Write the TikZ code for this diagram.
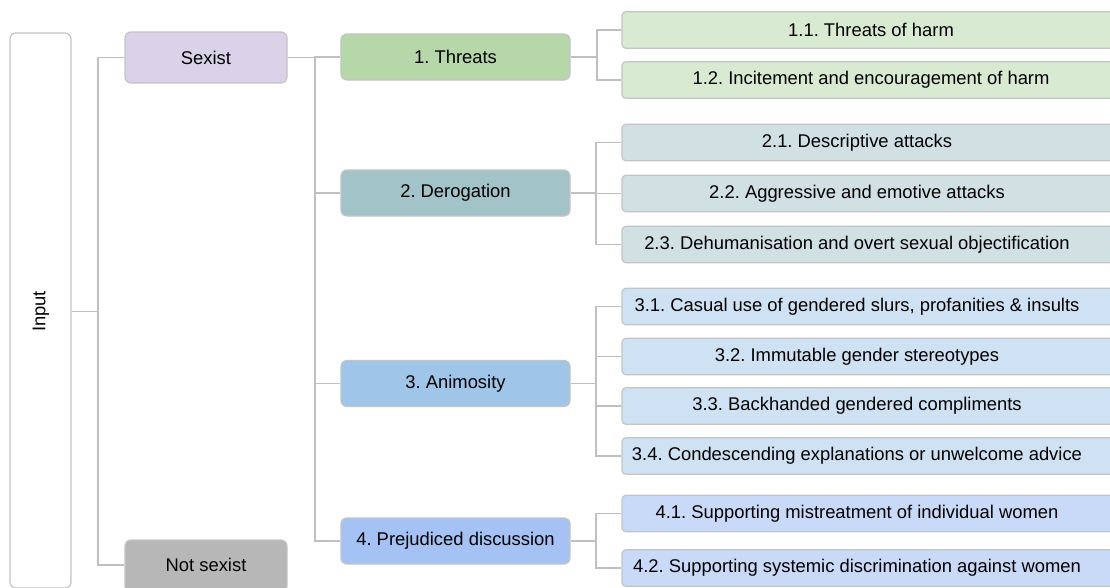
\documentclass[tikz,border=0pt]{standalone}
\usepackage{fontspec}
\setmainfont{Liberation Sans}
\frenchspacing
\definecolor{bordergray}{HTML}{C4C4C4}
\definecolor{linegray}{HTML}{C0C0C0}
\definecolor{sexistfill}{HTML}{D9D2E9}
\definecolor{notsexistfill}{HTML}{B7B7B7}
\definecolor{thrA}{HTML}{B6D7A8}
\definecolor{thrB}{HTML}{D9EAD3}
\definecolor{derA}{HTML}{A2C4C9}
\definecolor{derB}{HTML}{D0E0E3}
\definecolor{aniA}{HTML}{9FC5E8}
\definecolor{aniB}{HTML}{CFE2F3}
\definecolor{preA}{HTML}{A4C2F4}
\definecolor{preB}{HTML}{C9DAF8}
\begin{document}
\begin{tikzpicture}[x=1pt,y=-1pt,
  every node/.style={font=\fontsize{18.4}{21}\selectfont\frenchspacing, text=black},
  box/.style={draw=bordergray, line width=1.2pt, rounded corners=6pt, inner sep=0pt},
  topbox/.style={box, minimum width=162pt, minimum height=51pt},
  catbox/.style={box, minimum width=229pt, minimum height=46pt},
  leafbox/.style={box, rounded corners=4pt, minimum width=498pt, minimum height=36.5pt},
  conn/.style={draw=linegray, line width=1.2pt}]
\clip (0,0) rectangle (1110,587);
\fill[white] (0,0) rectangle (1110,587);

% level 0 and 1
\node[box, fill=white, minimum width=61pt, minimum height=555pt] (input) at (40.5,310.5) {};
\node[rotate=90] (inputtxt) at (41,311.5) {Input};
\node[topbox, fill=sexistfill] (sexist) at (206,57.5) {Sexist};
\node[topbox, fill=notsexistfill, minimum height=52pt] (notsexist) at (206,566) {};
\node (nstxt) at (206,565) {Not sexist};

% categories
\node[catbox, fill=thrA] (t1) at (455.5,57) {1. Threats};
\node[catbox, fill=derA] (t2) at (455.5,193) {2. Derogation};
\node[catbox, fill=aniA] (t3) at (455.5,383.5) {3. Animosity};
\node[catbox, fill=preA] (t4) at (455.5,541) {4. Prejudiced discussion};

% leaves
\node[leafbox, fill=thrB] (c11) at (871,30) {1.1. Threats of harm};
\node[leafbox, fill=thrB] (c12) at (871,80) {1.2. Incitement and encouragement of harm};
\node[leafbox, fill=derB] (c21) at (871,142.5) {\hspace*{-28pt}2.1. Descriptive attacks};
\node[leafbox, fill=derB] (c22) at (871,193.5) {\hspace*{-28pt}2.2. Aggressive and emotive attacks};
\node[leafbox, fill=derB] (c23) at (871,244.5) {\hspace*{-28pt}2.3. Dehumanisation and overt sexual objectification};
\node[leafbox, fill=aniB] (c31) at (871,306.5) {\hspace*{-28pt}3.1. Casual use of gendered slurs, profanities \& insults};
\node[leafbox, fill=aniB] (c32) at (871,356.5) {\hspace*{-28pt}3.2. Immutable gender stereotypes};
\node[leafbox, fill=aniB] (c33) at (871,406) {\hspace*{-28pt}3.3. Backhanded gendered compliments};
\node[leafbox, fill=aniB] (c34) at (871,456) {\hspace*{-28pt}3.4. Condescending explanations or unwelcome advice};
\node[leafbox, fill=preB] (c41) at (871,513.5) {\hspace*{-28pt}4.1. Supporting mistreatment of individual women};
\node[leafbox, fill=preB] (c42) at (871,568) {\hspace*{-28pt}4.2. Supporting systemic discrimination against women};

% junctions
\coordinate (j0) at (98,311.5);
\coordinate (j1) at (315,57.5);
\coordinate (k1) at (597,57);
\coordinate (k2) at (596,193);
\coordinate (k3) at (596,383.5);
\coordinate (k4) at (596,541);

% connectors
\draw[conn] (input.east |- j0) -- (j0);
\draw[conn] (sexist.west) -| (j0) |- (notsexist.west |- nstxt);
\draw[conn] (sexist.east) -- (j1) |- (t4.west);
\draw[conn] (j1) |- (t1.west);
\draw[conn] (j1) |- (t2.west);
\draw[conn] (j1) |- (t3.west);

\draw[conn] (t1.east) -- (k1);
\draw[conn] (c11.west) -| (k1) |- (c12.west);
\draw[conn] (t2.east) -- (k2);
\draw[conn] (c21.west) -| (k2) |- (c23.west);
\draw[conn] (k2) |- (c22.west);
\draw[conn] (t3.east) -- (k3);
\draw[conn] (c31.west) -| (k3) |- (c34.west);
\draw[conn] (k3) |- (c32.west);
\draw[conn] (k3) |- (c33.west);
\draw[conn] (t4.east) -- (k4);
\draw[conn] (c41.west) -| (k4) |- (c42.west);
\end{tikzpicture}
\end{document}
